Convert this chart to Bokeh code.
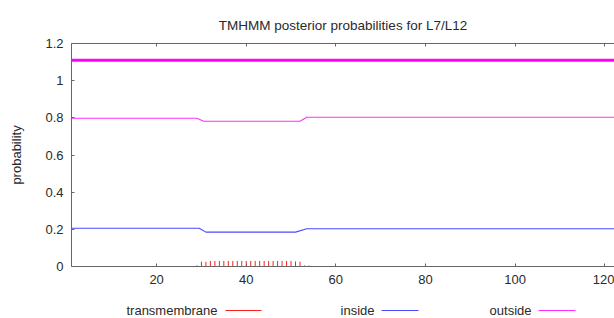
from bokeh.plotting import figure
from bokeh.layouts import column
from bokeh.models import Range1d, LinearAxis, FixedTicker
from bokeh.core.properties import value
from bokeh.embed import file_html
from bokeh.resources import INLINE

# ---- data ----
outside_x = [1, 29, 30.5, 52, 53.5, 124]
outside_y = [0.798, 0.798, 0.782, 0.782, 0.803, 0.803]
inside_x = [1, 29.5, 31, 51, 53.5, 124]
inside_y = [0.206, 0.206, 0.185, 0.185, 0.203, 0.203]
tm_x = list(range(29, 55))
tm_y = [0.006, 0.026, 0.025, 0.030, 0.030, 0.030, 0.030, 0.030, 0.030, 0.030,
        0.030, 0.030, 0.030, 0.030, 0.030, 0.030, 0.030, 0.030, 0.030, 0.030,
        0.030, 0.030, 0.027, 0.026, 0.006, 0.005]
topo_x = [1, 124]
topo_y = [1.11, 1.11]
x_ticks = [20, 40, 60, 80, 100, 120]
y_ticks = [0, 0.2, 0.4, 0.6, 0.8, 1.0, 1.2]
y_tick_labels = ["0", "0.2", "0.4", "0.6", "0.8", "1", "1.2"]
legend_names = ["transmembrane", "inside", "outside"]
legend_colors = ["#ff2020", "#4a4aff", "#ff30ff"]

FONT = "Liberation Sans"
TXT = "#2a2a2a"
AX = "#666666"
W = 614
LEFT = 71

p = figure(width=W, height=290, output_backend="svg", toolbar_location=None,
           x_range=Range1d(1, 122.2), y_range=Range1d(0, 1.2),
           min_border_left=LEFT, min_border_right=0, min_border_top=43,
           min_border_bottom=24)
p.outline_line_color = None
p.grid.visible = False
p.background_fill_color = "white"
p.border_fill_color = "white"

p.title.text = "TMHMM posterior probabilities for L7/L12"
p.title.align = "center"
p.title.text_font = FONT
p.title.text_font_size = "13.5px"
p.title.text_font_style = "normal"
p.title.text_color = TXT
p.title.offset = 6
p.title.standoff = 22

for ax in p.xaxis:
    ax.ticker = FixedTicker(ticks=x_ticks)
for ax in p.yaxis:
    ax.ticker = FixedTicker(ticks=y_ticks)
    ax.major_label_overrides = {t: s for t, s in zip(y_ticks, y_tick_labels)}
    ax.axis_label = "probability"
    ax.axis_label_text_font_style = "normal"
    ax.axis_label_standoff = 18

for ax in list(p.xaxis) + list(p.yaxis):
    ax.major_tick_in = 3
    ax.major_tick_out = 0
    ax.minor_tick_line_color = None
    ax.axis_line_color = AX
    ax.major_tick_line_color = AX
    ax.major_label_text_font = FONT
    ax.major_label_text_font_size = "13px"
    ax.major_label_text_color = TXT
    ax.major_label_standoff = 8
    ax.axis_label_text_font = FONT
    ax.axis_label_text_font_size = "13px"
    ax.axis_label_text_color = TXT

top = LinearAxis(ticker=FixedTicker(ticks=x_ticks),
                 major_label_overrides={t: "" for t in x_ticks},
                 major_tick_in=3, major_tick_out=0, minor_tick_line_color=None,
                 axis_line_color=AX, major_tick_line_color=AX, major_label_standoff=0)
p.add_layout(top, "above")

# ---- marks ----
p.line(topo_x, topo_y, line_color="#ff00ff", line_width=3)
p.line(outside_x, outside_y, line_color=legend_colors[2], line_width=1.1)
p.line(inside_x, inside_y, line_color=legend_colors[1], line_width=1.1)
p.segment(x0=tm_x, y0=[0] * len(tm_x), x1=tm_x, y1=tm_y,
          line_color=legend_colors[0], line_width=1)

# ---- legend strip (gnuplot style: label then line sample), pixel units ----
# the strip's frame is aligned with the main frame (LEFT .. W) by the column layout
LH = 28
lg = figure(width=W, height=LH, output_backend="svg", toolbar_location=None,
            x_range=Range1d(LEFT, W), y_range=Range1d(0, LH),
            min_border_left=LEFT, min_border_right=0, min_border_top=0,
            min_border_bottom=0, outline_line_color=None)
lg.axis.visible = False
lg.grid.visible = False
lg.border_fill_color = "white"
leg_y = LH - 20
leg_text_right = [217, 374, 531]
leg_line_start = [225, 381, 538]
leg_line_end = [261, 418, 575]
lg.text(x=leg_text_right, y=[leg_y] * 3, text=legend_names,
        text_align="right", text_baseline="middle", text_font=value(FONT),
        text_font_size="13px", text_color=TXT)
lg.segment(x0=leg_line_start, y0=[leg_y] * 3, x1=leg_line_end, y1=[leg_y] * 3,
           line_color=legend_colors, line_width=1.1)

open("out.html", "w").write(file_html(column(p, lg, spacing=0), INLINE))
